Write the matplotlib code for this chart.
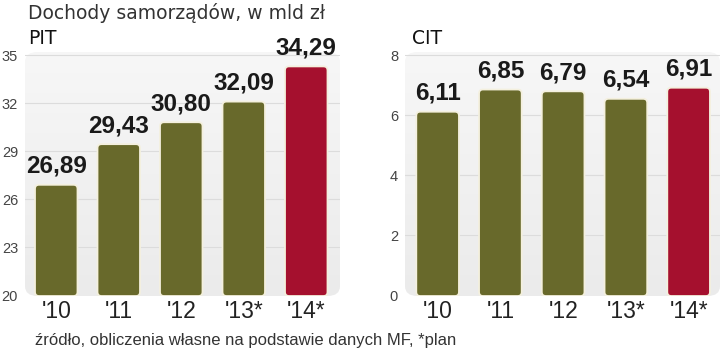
import numpy as np
import matplotlib
matplotlib.use("Agg")
import matplotlib.pyplot as plt
from matplotlib.patches import FancyBboxPatch

# data
years = ["'10", "'11", "'12", "'13*", "'14*"]
pit = [26.89, 29.43, 30.80, 32.09, 34.29]
cit = [6.11, 6.85, 6.79, 6.54, 6.91]
pit_ticks = [20, 23, 26, 29, 32, 35]
cit_ticks = [0, 2, 4, 6, 8]

OLIVE = "#68692b"
RED = "#a5102e"
FONT = "Liberation Sans"
FIG_W, FIG_H = 720, 354


def panel(fig, rect, values, ticks, ylim, xlim):
    ax = fig.add_axes(rect)
    ax.set_facecolor("none")

    # rounded grey background with soft vertical gradient
    bg = FancyBboxPatch((0, 0), 1, 1, boxstyle="round,pad=0,rounding_size=0.04",
                        transform=ax.transAxes, facecolor="none", edgecolor="none")
    ax.add_patch(bg)
    grad = np.linspace(0, 1, 256).reshape(-1, 1)
    cmap = matplotlib.colors.LinearSegmentedColormap.from_list("bg", ["#ebebeb", "#f7f7f7"])
    im = ax.imshow(grad, cmap=cmap, origin="lower", extent=(0, 1, 0, 1),
                   transform=ax.transAxes, aspect="auto", zorder=0)
    im.set_clip_path(bg)
    ax.set_xlim(*xlim)
    ax.set_ylim(*ylim)

    for t in ticks[1:]:
        ax.axhline(t, color="#dcdcdc", lw=0.8, zorder=1)

    x = np.arange(len(values))
    colors = [OLIVE] * (len(values) - 1) + [RED]
    bars = ax.bar(x, [v - ylim[0] for v in values], bottom=ylim[0], width=0.68,
                  color=colors, zorder=2)

    # swap the square bars for rounded ones
    w_px = rect[2] * FIG_W
    h_px = rect[3] * FIG_H
    xpp = (xlim[1] - xlim[0]) / w_px
    ypp = (ylim[1] - ylim[0]) / h_px
    for b, c in zip(bars, colors):
        b.set_visible(False)
        ax.add_patch(FancyBboxPatch((b.get_x(), b.get_y()), b.get_width(), b.get_height(),
                                    boxstyle=f"round,pad=0,rounding_size={4 * xpp}",
                                    mutation_aspect=ypp / xpp, facecolor=c,
                                    edgecolor="#f4f0de", linewidth=1.3, zorder=2))

    for xi, v in zip(x, values):
        ax.annotate(f"{v:.2f}".replace(".", ","), (xi, v), xytext=(0, 5),
                    textcoords="offset points", ha="center", va="bottom",
                    fontsize=17.5, fontweight="bold", family=FONT, color="#1a1a1a")

    ax.set_yticks(ticks)
    ax.set_yticklabels([str(t) for t in ticks], fontsize=10.5, color="#444444", family=FONT)
    ax.set_xticks(x)
    ax.set_xticklabels(years, fontsize=16.5, color="#222222", family=FONT)
    ax.tick_params(length=0, axis="y", pad=5)
    ax.tick_params(length=0, axis="x", pad=3)
    for s in ax.spines.values():
        s.set_visible(False)
    return ax


fig = plt.figure(figsize=(7.2, 3.54), dpi=100)
fig.patch.set_facecolor("white")

panel(fig, [25 / FIG_W, 58 / FIG_H, 315 / FIG_W, 244 / FIG_H], pit, pit_ticks,
      (19.94, 35.19), (-0.5, 4.54))
panel(fig, [405 / FIG_W, 58 / FIG_H, 315 / FIG_W, 244 / FIG_H], cit, cit_ticks,
      (-0.03, 8.1), (-0.52, 4.5))

fig.text(28 / FIG_W, 1 - 13 / FIG_H, "Dochody samorządów, w mld zł", fontsize=13.5,
         color="#333333", family="DejaVu Sans", va="center", ha="left")
fig.text(28 / FIG_W, 1 - 38 / FIG_H, "PIT", fontsize=13.5, color="#111111",
         family="DejaVu Sans", va="center", ha="left")
fig.text(412 / FIG_W, 1 - 38 / FIG_H, "CIT", fontsize=13.5, color="#111111",
         family="DejaVu Sans", va="center", ha="left")
fig.text(35 / FIG_W, 1 - 340 / FIG_H, "źródło, obliczenia własne na podstawie danych MF, *plan",
         fontsize=12, color="#333333", family=FONT, va="center", ha="left")

fig.savefig("out.png", dpi=100)
